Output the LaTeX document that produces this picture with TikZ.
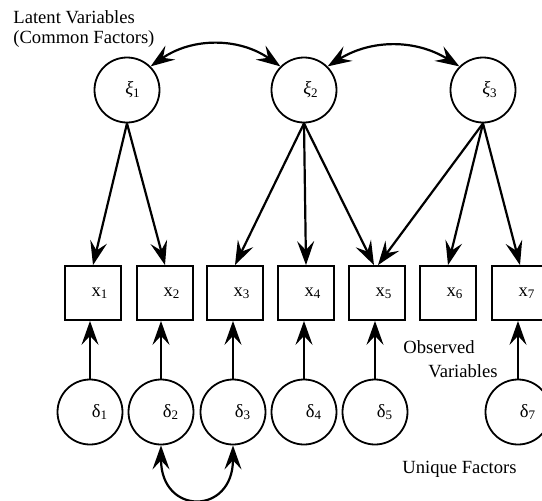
\documentclass[tikz,border=0pt]{standalone}
\usepackage{fontspec}
\setmainfont{Liberation Serif}
\usetikzlibrary{arrows.meta}
\tikzset{>={Stealth[length=12pt, width=8.5pt, inset=4.5pt]}}

\begin{document}
\begin{tikzpicture}[
    x = 0.5pt, y = 0.5pt,
    font = \fontsize{9.3}{10}\selectfont,
    lat/.style = {circle, draw, line width = 0.9pt, minimum size = 32.5pt, inner sep = 0pt},
    obs/.style = {rectangle, draw, line width = 0.9pt, minimum width = 28pt, minimum height = 27pt, inner sep = 0pt},
    tx/.style = {inner sep = 0pt},
    d1/.style = {->, line width = 1.1pt},
    d2/.style = {<->, line width = 1.1pt},
]
\useasboundingbox (0,0) rectangle (542,-500);

% common factors
\node[lat, label={[xshift=3pt]center:\textit{ξ}\textsubscript{1}}] (xi1) at (127,-90) {};
\node[lat, label={[xshift=3.5pt]center:\textit{ξ}\textsubscript{2}}] (xi2) at (304,-90) {};
\node[lat, label={[xshift=3.5pt]center:\textit{ξ}\textsubscript{3}}] (xi3) at (483,-90) {};

% observed variables
\foreach \i/\x in {1/93, 2/165, 3/235, 4/306, 5/377, 6/448, 7/520}
    \node[obs, label={[xshift=3.5pt]center:x\textsubscript{\i}}] (x\i) at (\x,-293) {};

% unique factors
\foreach \i/\x in {1/90, 2/161, 3/233, 4/304, 5/375, 7/518}
    \node[lat, label={[xshift=5pt]center:δ\textsubscript{\i}}] (d\i) at (\x,-412) {};

\draw[d2] (xi1.north east) to[bend left=35] (xi2.north west);
\draw[d2] (xi2.north east) to[bend left=32] (xi3.north west);

\draw[d1] (xi1.south) -- (x1.north);
\draw[d1] (xi1.south) -- (x2.north);
\draw[d1] (xi2.south) -- (x3.north);
\draw[d1] (xi2.south) -- (x4.north);
\draw[d1] (xi2.south) -- ([xshift=-1.5pt]x5.north);
\draw[d1] (xi3.south) -- ([xshift=0.5pt]x5.north);
\draw[d1] (xi3.south) -- (x6.north);
\draw[d1] (xi3.south) -- (x7.north);

\foreach \i in {1,2,3,4,5,7}
    \draw[d1] (d\i.north) -- (d\i.north |- x\i.south);

\draw[d2] (d2.south) to[out=-90, in=-90, looseness=2.5] (d3.south);

\node[tx, anchor=north west, align=left] (latent) at (13,-10) {Latent Variables\\(Common Factors)};
\node[tx, anchor=base west] (obsA) at (403,-353) {Observed};
\node[tx, anchor=base west] (obsB) at (428,-377) {Variables};
\node[tx, anchor=base west] (uniq) at (402,-473) {Unique Factors};

\end{tikzpicture}
\end{document}
